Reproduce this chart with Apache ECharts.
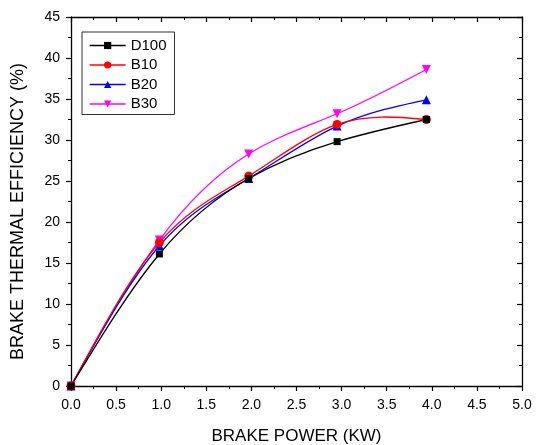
<!DOCTYPE html>
<html>
<head>
<meta charset="utf-8">
<script src="https://cdn.jsdelivr.net/npm/echarts@6/dist/echarts.min.js"></script>
<style>html,body{margin:0;padding:0;background:#fff}#c{width:544px;height:445px}</style>
</head>
<body>
<div id="c"></div>
<script>
const brakePower = [0, 0.98, 1.97, 2.95, 3.94];
const D100 = [0, 16.1, 25.3, 29.8, 32.5];
const B10 = [0, 17.5, 25.6, 31.9, 32.5];
const B20 = [0, 17.1, 25.3, 31.7, 34.9];
const B30 = [0, 17.8, 28.3, 33.2, 38.6];
const seriesNames = ['D100', 'B10', 'B20', 'B30'];
const xTicks = [0, 0.5, 1, 1.5, 2, 2.5, 3, 3.5, 4, 4.5, 5];
const yTicks = [0, 5, 10, 15, 20, 25, 30, 35, 40, 45];

const font = 'Liberation Sans, Arial, sans-serif';
const pair = arr => brakePower.map((x, i) => [x, arr[i]]);

// natural cubic spline slopes at the knots (like Origin's "Spline" connection)
function splineSlopes(xs, ys) {
  const n = xs.length;
  const h = [], M = new Array(n).fill(0);
  for (let i = 0; i < n - 1; i++) h.push(xs[i + 1] - xs[i]);
  const a = [], b = [], c = [], d = [];
  for (let i = 1; i < n - 1; i++) {
    a.push(h[i - 1]); b.push(2 * (h[i - 1] + h[i])); c.push(h[i]);
    d.push(6 * ((ys[i + 1] - ys[i]) / h[i] - (ys[i] - ys[i - 1]) / h[i - 1]));
  }
  const m = b.length;
  for (let i = 1; i < m; i++) {
    const w = a[i] / b[i - 1];
    b[i] -= w * c[i - 1]; d[i] -= w * d[i - 1];
  }
  const sol = new Array(m);
  for (let i = m - 1; i >= 0; i--) sol[i] = (d[i] - (i < m - 1 ? c[i] * sol[i + 1] : 0)) / b[i];
  for (let i = 0; i < m; i++) M[i + 1] = sol[i];
  const segs = [];
  for (let i = 0; i < n - 1; i++) {
    const s = (ys[i + 1] - ys[i]) / h[i];
    segs.push({
      m0: s - h[i] * (2 * M[i] + M[i + 1]) / 6,
      m1: s + h[i] * (M[i] + 2 * M[i + 1]) / 6,
      h: h[i]
    });
  }
  return segs;
}

const colors = ['#000000', '#ff0000', '#0000ff', '#ff00ff'];
const symbols = ['rect', 'circle', 'triangle', 'triangle'];
const sizes = [7, 9, 9, 9];
const rots = [0, 0, 0, 180];
const datas = [D100, B10, B20, B30];

function curveSeries(arr, color, z) {
  const segs = splineSlopes(brakePower, arr);
  return {
    type: 'custom', name: '_curve', data: pair(arr), z: z, silent: true,
    encode: {x: 0, y: 1},
    renderItem: (params, api) => {
      if (params.dataIndex !== 0) return null;
      const xs = brakePower;
      let path = '';
      const p0 = api.coord([xs[0], arr[0]]);
      path += 'M' + p0[0] + ' ' + p0[1];
      for (let i = 0; i < xs.length - 1; i++) {
        const s = segs[i], h3 = s.h / 3;
        const c1 = api.coord([xs[i] + h3, arr[i] + s.m0 * h3]);
        const c2 = api.coord([xs[i + 1] - h3, arr[i + 1] - s.m1 * h3]);
        const p = api.coord([xs[i + 1], arr[i + 1]]);
        path += ' C' + c1[0] + ' ' + c1[1] + ' ' + c2[0] + ' ' + c2[1] + ' ' + p[0] + ' ' + p[1];
      }
      return {
        type: 'path', shape: {pathData: path},
        style: {fill: null, stroke: color, lineWidth: 1.3}
      };
    }
  };
}

const chart = echarts.init(document.getElementById('c'), null, {renderer: 'canvas'});
const axisLine = {show: true, onZero: false, lineStyle: {color: '#000', width: 1.3}};
const baseX = {
  type: 'value', min: xTicks[0], max: xTicks[xTicks.length - 1], interval: 0.5,
  splitLine: {show: false}, axisLine: axisLine,
  minorTick: {show: true, splitNumber: 2, length: 3, lineStyle: {color: '#000'}},
  axisTick: {length: 5, lineStyle: {color: '#000', width: 1.2}}
};
const baseY = {
  type: 'value', min: yTicks[0], max: yTicks[yTicks.length - 1], interval: 5,
  splitLine: {show: false}, axisLine: axisLine,
  minorTick: {show: true, splitNumber: 2, length: 3, lineStyle: {color: '#000'}},
  axisTick: {length: 5, lineStyle: {color: '#000', width: 1.2}}
};

chart.setOption({
  animation: false,
  grid: {left: 71, right: 22, top: 17, bottom: 59, containLabel: false, outerBoundsMode: 'none'},
  legend: {
    left: 82, top: 32, orient: 'vertical',
    borderColor: '#333', borderWidth: 1, padding: [6, 8, 3, 7],
    itemWidth: 36, itemHeight: 9, itemGap: 4.5,
    textStyle: {fontFamily: font, fontSize: 15, color: '#000'},
    data: seriesNames.map((n, i) => ({
      name: n, lineStyle: {opacity: 1, color: colors[i], width: 1.3}
    }))
  },
  xAxis: [
    Object.assign({}, baseX, {
      position: 'bottom',
      name: 'BRAKE POWER (KW)', nameLocation: 'middle', nameGap: 42,
      nameTextStyle: {fontFamily: font, fontSize: 17, color: '#000'},
      axisLabel: {fontFamily: font, fontSize: 14, color: '#000', margin: 12,
        formatter: v => v.toFixed(1)}
    }),
    Object.assign({}, baseX, {
      position: 'top', axisLabel: {show: false},
      axisTick: {inside: true, length: 5, lineStyle: {color: '#000', width: 1.2}},
      minorTick: {show: true, splitNumber: 2, length: 3, lineStyle: {color: '#000'}}
    })
  ],
  yAxis: [
    Object.assign({}, baseY, {
      position: 'left',
      name: 'BRAKE THERMAL EFFICIENCY (%)', nameLocation: 'middle', nameGap: 44,
      nameTextStyle: {fontFamily: font, fontSize: 18, color: '#000', padding: [0, 20, 0, 0]},
      axisLabel: {fontFamily: font, fontSize: 14, color: '#000', margin: 11}
    }),
    Object.assign({}, baseY, {
      position: 'right', axisLabel: {show: false},
      axisTick: {inside: true, length: 5, lineStyle: {color: '#000', width: 1.2}},
      minorTick: {show: true, splitNumber: 2, length: 3, lineStyle: {color: '#000'}}
    })
  ],
  series: datas.map((arr, i) => curveSeries(arr, colors[i], 2 + (3 - i))).concat(
    seriesNames.map((n, i) => ({
      name: n, type: 'line',
      data: pair(datas[i]),
      symbol: symbols[i], symbolSize: sizes[i], symbolRotate: rots[i],
      showAllSymbol: true,
      itemStyle: {color: colors[i]},
      lineStyle: {color: colors[i], width: 1.3, opacity: 0},
      z: 10 + (3 - i)
    }))
  )
});
</script>
</body>
</html>
